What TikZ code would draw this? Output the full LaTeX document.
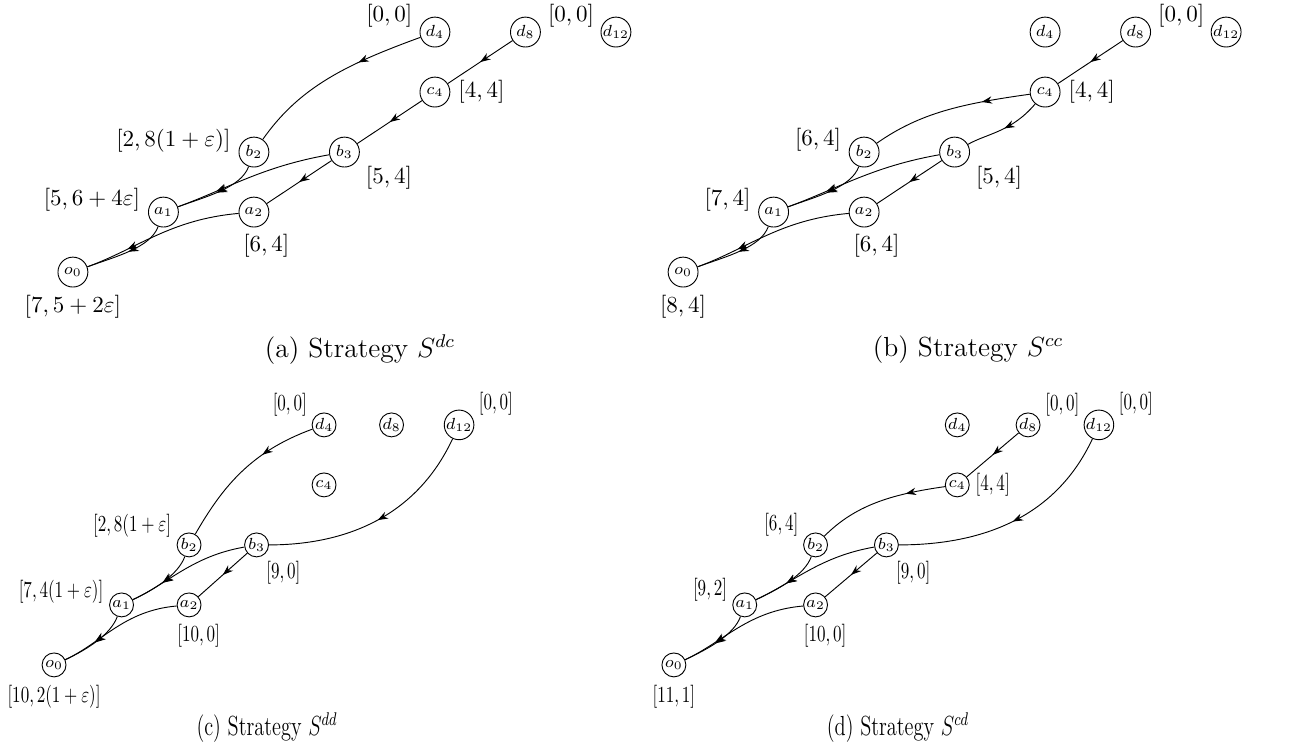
\documentclass[tikz,border=0pt]{standalone}
\usetikzlibrary{arrows.meta,decorations.markings}
\tikzset{
  vtx/.style={circle,draw,inner sep=0pt,minimum size=13pt,font=\scriptsize},
  smallvtx/.style={vtx,minimum size=10.4pt},
  lbl/.style={inner sep=.3333em},
  sqlbl/.style={lbl,xscale=0.74},
  capt/.style={font=\large},
  flow/.style={postaction={decorate},
    decoration={markings,mark=at position #1 with {\arrow{Stealth[length=4.5pt,width=3.2pt]}}}},
  flow/.default=0.5,
  mergein/.style={out looseness=0.6,in looseness=1.2},
}

\begin{document}
\begin{tikzpicture}
  \useasboundingbox (0,0) rectangle (567.4pt,327.4pt);

  % (a) strategy dc
  \begin{scope}[shift={(31.7pt,209.1pt)},x=39.35pt,y=26.09pt,name prefix=a-]
    \foreach \n/\lab/\x/\y in {o0/o_0/0/0,a1/a_1/1/1,a2/a_2/2/1,b2/b_2/2/2,b3/b_3/3/2,c4/c_4/4/3,d4/d_4/4/4,d8/d_8/5/4,d12/d_{12}/6/4}
      \node[vtx] (\n) at (\x,\y) {$\lab$};
    \draw[flow=0.35] (d4) to[out=200,in=55] (b2);
    \draw[flow] (d8) -- (c4);
    \draw[flow] (c4) -- (b3);
    \draw[flow=-18pt] (b2) to[out=-110,in=20,mergein] (a1);
    \draw[flow=-18pt] (b3) to[out=190,in=20] (a1);
    \draw[flow] (b3) -- (a2);
    \draw[flow=-19pt] (a1) to[out=-110,in=20,mergein] (o0);
    \draw[flow=-19pt] (a2) to[out=185,in=20] (o0);
    % payoffs
    \node[lbl,anchor=340] (Ld4) at (d4.160) {$[0,0]$};
    \node[lbl,anchor=200] (Ld8) at (d8.20) {$[0,0]$};
    \node[lbl,anchor=180] (Lc4) at (c4.0) {$[4,4]$};
    \node[lbl,anchor=352] (Lb2) at (b2.172) {$[2,8(1+\varepsilon)]$};
    \node[lbl,anchor=150] (Lb3) at (b3.330) {$[5,4]$};
    \node[lbl,anchor=350] (La1) at (a1.170) {$[5,6+4\varepsilon]$};
    \node[lbl,anchor=110] (La2) at (a2.290) {$[6,4]$};
    \node[lbl,anchor=90] (Lo0) at (o0.270) {$[7,5+2\varepsilon]$};
  \end{scope}

  % (b) strategy cc
  \begin{scope}[shift={(297.0pt,209.1pt)},x=39.35pt,y=26.09pt,name prefix=b-]
    \foreach \n/\lab/\x/\y in {o0/o_0/0/0,a1/a_1/1/1,a2/a_2/2/1,b2/b_2/2/2,b3/b_3/3/2,c4/c_4/4/3,d4/d_4/4/4,d8/d_8/5/4,d12/d_{12}/6/4}
      \node[vtx] (\n) at (\x,\y) {$\lab$};
    \draw[flow] (d8) -- (c4);
    \draw[flow=0.3] (c4) to[out=188,in=35] (b2);
    \draw[flow] (c4) to[out=230,in=30] (b3);
    \draw[flow=-18pt] (b2) to[out=-110,in=20,mergein] (a1);
    \draw[flow=-18pt] (b3) to[out=190,in=20] (a1);
    \draw[flow] (b3) -- (a2);
    \draw[flow=-19pt] (a1) to[out=-110,in=20,mergein] (o0);
    \draw[flow=-19pt] (a2) to[out=185,in=20] (o0);
    % payoffs
    \node[lbl,anchor=200] (Ld8) at (d8.20) {$[0,0]$};
    \node[lbl,anchor=180] (Lc4) at (c4.0) {$[4,4]$};
    \node[lbl,anchor=345] (Lb2) at (b2.165) {$[6,4]$};
    \node[lbl,anchor=150] (Lb3) at (b3.330) {$[5,4]$};
    \node[lbl,anchor=345] (La1) at (a1.165) {$[7,4]$};
    \node[lbl,anchor=110] (La2) at (a2.290) {$[6,4]$};
    \node[lbl,anchor=90] (Lo0) at (o0.270) {$[8,4]$};
  \end{scope}

  % (c) strategy dd
  \begin{scope}[shift={(23.5pt,38.3pt)},x=29.35pt,y=26.09pt,name prefix=c-]
    \foreach \n/\lab/\x/\y in {o0/o_0/0/0,a1/a_1/1/1,a2/a_2/2/1,b2/b_2/2/2,b3/b_3/3/2,c4/c_4/4/3,d4/d_4/4/4,d8/d_8/5/4,d12/d_{12}/6/4}
      \node[smallvtx] (\n) at (\x,\y) {$\lab$};
    \draw[flow=0.35] (d4) to[out=200,in=60] (b2);
    \draw[flow] (d12) to[out=-115,in=0] (b3);
    \draw[flow=-15pt] (b2) to[out=-110,in=25,mergein] (a1);
    \draw[flow=-15pt] (b3) to[out=190,in=25] (a1);
    \draw[flow] (b3) -- (a2);
    \draw[flow=-15pt] (a1) to[out=-110,in=25,mergein] (o0);
    \draw[flow=-15pt] (a2) to[out=185,in=25] (o0);
    % payoffs
    \node[sqlbl,anchor=335] (Ld4) at (d4.155) {$[0,0]$};
    \node[sqlbl,anchor=205] (Ld12) at (d12.25) {$[0,0]$};
    \node[sqlbl,anchor=345] (Lb2) at (b2.165) {$[2,8(1+\varepsilon]$};
    \node[sqlbl,anchor=140] (Lb3) at (b3.320) {$[9,0]$};
    \node[sqlbl,anchor=350] (La1) at (a1.170) {$[7,4(1+\varepsilon)]$};
    \node[sqlbl,anchor=110] (La2) at (a2.290) {$[10,0]$};
    \node[sqlbl,anchor=90] (Lo0) at (o0.270) {$[10,2(1+\varepsilon)]$};
  \end{scope}

  % (d) strategy cd
  \begin{scope}[shift={(293.0pt,38.3pt)},x=30.8pt,y=26.09pt,name prefix=d-]
    \foreach \n/\lab/\x/\y in {o0/o_0/0/0,a1/a_1/1/1,a2/a_2/2/1,b2/b_2/2/2,b3/b_3/3/2,c4/c_4/4/3,d4/d_4/4/4,d8/d_8/5/4,d12/d_{12}/6/4}
      \node[smallvtx] (\n) at (\x,\y) {$\lab$};
    \draw[flow] (d8) -- (c4);
    \draw[flow=0.3] (c4) to[out=188,in=45] (b2);
    \draw[flow] (d12) to[out=-115,in=0] (b3);
    \draw[flow=-15pt] (b2) to[out=-110,in=25,mergein] (a1);
    \draw[flow=-15pt] (b3) to[out=190,in=25] (a1);
    \draw[flow] (b3) -- (a2);
    \draw[flow=-15pt] (a1) to[out=-110,in=25,mergein] (o0);
    \draw[flow=-15pt] (a2) to[out=185,in=25] (o0);
    % payoffs
    \node[sqlbl,anchor=205] (Ld8) at (d8.25) {$[0,0]$};
    \node[sqlbl,anchor=205] (Ld12) at (d12.25) {$[0,0]$};
    \node[sqlbl,anchor=180] (Lc4) at (c4.0) {$[4,4]$};
    \node[sqlbl,anchor=335] (Lb2) at (b2.155) {$[6,4]$};
    \node[sqlbl,anchor=140] (Lb3) at (b3.320) {$[9,0]$};
    \node[sqlbl,anchor=340] (La1) at (a1.160) {$[9,2]$};
    \node[sqlbl,anchor=110] (La2) at (a2.290) {$[10,0]$};
    \node[sqlbl,anchor=90] (Lo0) at (o0.270) {$[11,1]$};
  \end{scope}

  % captions
  \node[capt] (capa) at (156.5pt,175.2pt) {(a) Strategy $S^{dc}$};
  \node[capt] (capb) at (420.9pt,175.2pt) {(b) Strategy $S^{cc}$};
  \node[capt,xscale=0.74] (capc) at (116.1pt,10.9pt) {(c) Strategy $S^{dd}$};
  \node[capt,xscale=0.74] (capd) at (390.4pt,10.9pt) {(d) Strategy $S^{cd}$};
\end{tikzpicture}
\end{document}
